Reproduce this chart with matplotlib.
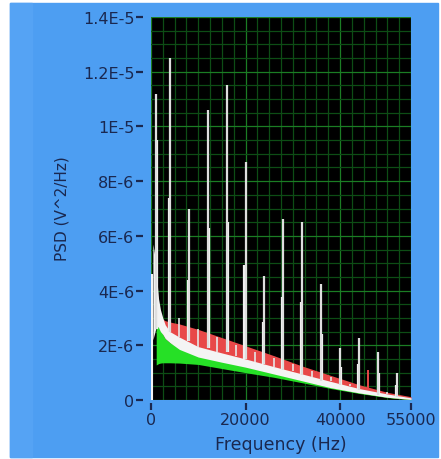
import numpy as np
import matplotlib
matplotlib.use('Agg')
import matplotlib.pyplot as plt
from matplotlib.patches import Rectangle
from matplotlib.ticker import MultipleLocator

nan = np.nan

# envelopes of the three noisy PSD traces, values in 1E-6 V^2/Hz
freq = [400, 700, 1000, 1100, 1300, 1600, 2000, 2500, 3000, 4000, 6000,
        10000, 15000, 20000, 26000, 32000, 38000, 44000, 50000, 55000]
white_top = [5.7, 5.4, 4.9, 4.7, 4.3, 3.7, 3.3, 3.0, 2.75, 2.5, 2.3,
             1.95, 1.72, 1.5, 1.22, 0.95, 0.68, 0.42, 0.22, 0.08]
white_bot = [2.2, 2.4, 2.6, 2.65, 2.7, 2.65, 2.5, 2.4, 2.25, 2.1, 1.85,
             1.57, 1.38, 1.2, 0.95, 0.7, 0.45, 0.26, 0.1, 0.02]
red_top = [nan, nan, nan, nan, nan, 3.05, 3.0, 2.95, 2.9, 2.85, 2.78,
           2.58, 2.28, 1.98, 1.62, 1.24, 0.9, 0.56, 0.28, 0.12]
green_top = [nan, nan, nan, 2.95, 2.95, 2.85, 2.6, 2.4, 2.25, 2.1, 1.9,
             1.62, 1.42, 1.22, 0.97, 0.72, 0.47, 0.28, 0.12, 0.03]
green_bot = [nan, nan, nan, 1.28, 1.3, 1.33, 1.35, 1.36, 1.36, 1.36, 1.35,
             1.3, 1.15, 1.0, 0.83, 0.63, 0.42, 0.24, 0.09, 0.01]

# harmonic peaks (two overlaid traces)
spike_freq = [1000, 4000, 8000, 12000, 16000, 20000, 24000, 28000, 32000,
              36000, 40000, 44000, 48000, 52000]
spike_top = [11.2, 12.5, 7.0, 10.6, 11.5, 8.7, 4.55, 6.6, 6.5, 4.25, 1.9,
             2.25, 1.75, 1.0]
spike2_freq = [1250, 3750, 7750, 12250, 16250, 19750, 23750, 27750, 31750,
               36250, 40250, 43750, 48250, 51750]
spike2_top = [9.5, 7.4, 4.4, 6.3, 6.5, 4.95, 2.85, 3.75, 3.6, 2.4, 1.2,
              1.3, 1.0, 0.55]
spike_base = [2.6, 2.5, 2.15, 1.9, 1.75, 1.5, 1.3, 1.1, 0.9, 0.7, 0.55,
              0.35, 0.2, 0.1]

small_freq = [6000, 10000, 14000, 18000, 22000, 26000, 30000, 34000,
              38000, 42000, 50000]
small_top = [3.0, 2.6, 2.3, 2.0, 1.75, 1.55, 1.3, 1.05, 0.85, 0.6, 0.3]
small_base = [2.3, 1.95, 1.76, 1.6, 1.4, 1.22, 1.05, 0.85, 0.68, 0.5, 0.22]

red_spike_freq = [46000]
red_spike_top = [1.1]
red_spike_base = [0.35]

low_line_freq = [250]
low_line_top = [4.6]

xticks = [0, 20000, 40000, 55000]
xtick_labels = ['0', '20000', '40000', '55000']
yticks = [0, 2, 4, 6, 8, 10, 12, 14]
ytick_labels = ['0', '2E-6', '4E-6', '6E-6', '8E-6', '1E-5', '1.2E-5', '1.4E-5']

E = 1e-6
f = np.array(freq)

W, H = 441, 460
txt = '#1a2850'
fig = plt.figure(figsize=(W / 100, H / 100), dpi=100)
fig.patch.set_facecolor('white')
fig.patches.append(Rectangle((10 / W, 2 / H), 428 / W, 454 / H,
                             transform=fig.transFigure, color='#4d9ef2', zorder=-2))
fig.patches.append(Rectangle((10 / W, 2 / H), 22 / W, 454 / H,
                             transform=fig.transFigure, color='#55a3f4', zorder=-1))

ax = fig.add_axes([151 / W, 59 / H, 260 / W, 383 / H])
ax.set_facecolor('black')
ax.set_xlim(0, 55000)
ax.set_ylim(0, 14 * E)

ax.xaxis.set_minor_locator(MultipleLocator(2500))
ax.yaxis.set_minor_locator(MultipleLocator(0.5 * E))
ax.grid(which='minor', color='#0d4d15', lw=0.9)
ax.grid(which='major', color='#1b7d24', lw=0.9)
ax.set_axisbelow(True)

ax.fill_between(f, np.array(white_bot) * E, np.array(red_top) * E,
                color='#e84848', lw=0, zorder=2)
ax.fill_between(f, np.array(green_bot) * E, np.array(green_top) * E,
                color='#26e026', lw=0, zorder=3)
ax.fill_between(f, np.array(white_bot) * E, np.array(white_top) * E,
                color='#f4f4f4', lw=0, zorder=4)

ax.vlines(small_freq, np.array(small_base) * E, np.array(small_top) * E,
          color='#e6e6e6', lw=1.2, zorder=5)
ax.vlines(red_spike_freq, np.array(red_spike_base) * E, np.array(red_spike_top) * E,
          color='#e84848', lw=1.4, zorder=5)
ax.vlines(spike2_freq, np.array(spike_base) * E, np.array(spike2_top) * E,
          color='#f0f0f0', lw=1.6, zorder=6)
ax.vlines(spike_freq, np.array(spike_base) * E, np.array(spike_top) * E,
          color='#dedede', lw=1.6, zorder=6)
ax.vlines(low_line_freq, 0, np.array(low_line_top) * E,
          color='#f4f4f4', lw=1.5, zorder=6)

for s in ax.spines.values():
    s.set_visible(False)
ax.spines['left'].set_position(('outward', 6))
ax.spines['bottom'].set_position(('outward', 2))

ax.set_xticks(xticks, labels=xtick_labels)
ax.set_yticks(np.array(yticks) * E, labels=ytick_labels)
ax.tick_params(which='minor', length=0)
ax.tick_params(which='major', direction='out', length=5, width=1.6,
               color=txt, labelcolor=txt, labelsize=11.5)
ax.tick_params(axis='y', pad=1)
ax.tick_params(axis='x', pad=2)

fig.text(281 / W, 1 - 445 / H, 'Frequency (Hz)', ha='center', va='center',
         fontsize=12.5, color=txt)
fig.text(62 / W, 1 - 209 / H, 'PSD (V^2/Hz)', ha='center', va='center',
         rotation=90, fontsize=11, color=txt)

fig.savefig('out.png', dpi=100, facecolor=fig.get_facecolor())
